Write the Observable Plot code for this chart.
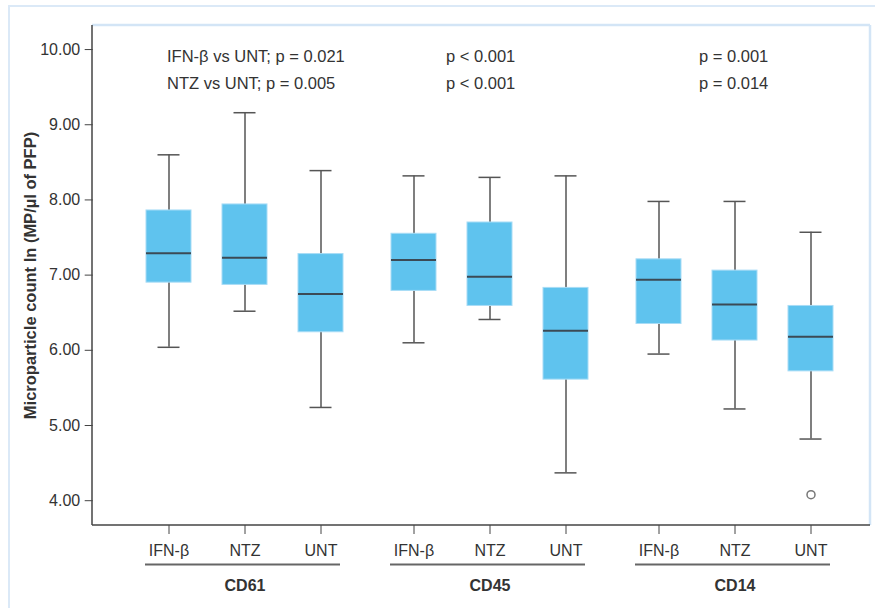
<!DOCTYPE html>
<html>
<head>
<meta charset="utf-8">
<script src="https://cdn.jsdelivr.net/npm/d3@7"></script>
<script src="https://cdn.jsdelivr.net/npm/@observablehq/plot@0.6"></script>
<style>
  html, body { margin: 0; padding: 0; background: #fff; }
  #wrap { position: relative; width: 875px; height: 608px; overflow: hidden; }
  #border { position: absolute; left: 8px; top: 5px; width: 920px; height: 720px; border: 2px solid #dbe9f7; box-sizing: border-box; }
  #chart { position: absolute; left: 0; top: 0; }
</style>
</head>
<body>
<div id="wrap"><div id="border"></div><div id="chart"></div></div>
<script>
// ---- data ----
const markers = ["CD61", "CD45", "CD14"];
const treatments = ["IFN-β", "NTZ", "UNT"];
const boxGroup     = ["CD61", "CD61", "CD61", "CD45", "CD45", "CD45", "CD14", "CD14", "CD14"];
const boxTreatment = ["IFN-β", "NTZ", "UNT", "IFN-β", "NTZ", "UNT", "IFN-β", "NTZ", "UNT"];
const whiskerHigh  = [8.60, 9.16, 8.39, 8.32, 8.30, 8.32, 7.98, 7.98, 7.57];
const quartile3    = [7.86, 7.94, 7.28, 7.55, 7.70, 6.83, 7.21, 7.06, 6.59];
const medians      = [7.29, 7.23, 6.75, 7.20, 6.98, 6.26, 6.94, 6.61, 6.18];
const quartile1    = [6.90, 6.87, 6.24, 6.79, 6.59, 5.61, 6.35, 6.13, 5.72];
const whiskerLow   = [6.04, 6.52, 5.24, 6.10, 6.41, 4.37, 5.95, 5.22, 4.82];
const outlierGroup = ["CD14"];
const outlierTreatment = ["UNT"];
const outlierValue = [4.08];
const yTicks = [4, 5, 6, 7, 8, 9, 10];
const yLabel = "Microparticle count ln (MP/µl of PFP)";
const annotations = [
  ["IFN-β vs UNT; p = 0.021", "NTZ vs UNT; p = 0.005"],
  ["p < 0.001", "p < 0.001"],
  ["p = 0.001", "p = 0.014"]
];

// ---- tables ----
const boxes = boxGroup.map((g, i) => ({
  group: g, treatment: boxTreatment[i],
  high: whiskerHigh[i], q3: quartile3[i], median: medians[i], q1: quartile1[i], low: whiskerLow[i]
}));
const outliers = outlierGroup.map((g, i) => ({group: g, treatment: outlierTreatment[i], value: outlierValue[i]}));
const groupsTable = markers.map(m => ({group: m}));

// ---- layout ----
const W = 875, H = 608, mL = 92, mR = 5, mT = 25, mB = 83;
const fxStart = 133.3, fxEnd = 845.3;
const yMin = 3.67, yMax = 10.32;
const font = "Arial, 'Liberation Sans', Helvetica, sans-serif";
const ink = "#333";
const annDx = [-2, 32, 40];

const annMarks = annotations.map((lines, k) => Plot.text([lines.join("\n")], {
  fx: () => markers[k], x: () => treatments[0], frameAnchor: "top",
  text: d => d, textAnchor: "start", lineAnchor: "top", lineHeight: 1.625,
  dx: annDx[k], dy: 17.5, fontSize: 16.5, fill: ink
}));

const svg = Plot.plot({
  width: W, height: H,
  marginLeft: mL, marginRight: mR, marginTop: mT, marginBottom: mB,
  style: {fontFamily: font, fontSize: "16px", color: ink, background: "transparent", overflow: "visible"},
  fx: {domain: markers, range: [fxStart, fxEnd], paddingInner: 0.1, paddingOuter: 0},
  x: {domain: treatments, paddingInner: 0.403, paddingOuter: 0.137},
  y: {domain: [yMin, yMax]},
  marks: [
    Plot.axisY({ticks: yTicks, tickFormat: d3.format(".2f"), tickSize: 8, tickPadding: 5, dx: mL - fxStart,
      label: null, fontSize: 16, stroke: "#444", fill: ink}),
    Plot.axisX({tickSize: 9, tickPadding: 10, label: null, fontSize: 16, stroke: "#444", fill: ink}),
    Plot.axisFx({anchor: "bottom", tickSize: 0, tickPadding: 54, label: null, fontSize: 16, fontWeight: "bold", fill: ink}),
    Plot.text([{group: markers[0], label: yLabel}], {
      fx: "group", frameAnchor: "left", text: "label", rotate: -90, textAnchor: "middle",
      dx: 30 - fxStart, fontSize: 16.5, fontWeight: "bold", fill: ink
    }),
    Plot.ruleY(groupsTable, {
      fx: "group", y: () => yMin, x1: () => treatments[0], x2: () => treatments[2],
      dy: 39, stroke: "#666", strokeWidth: 2, insetLeft: -1, insetRight: 3
    }),
    Plot.ruleX(boxes, {fx: "group", x: "treatment", y1: "low", y2: "high", stroke: "#555", strokeWidth: 1.5}),
    Plot.tickY(boxes, {fx: "group", x: "treatment", y: "high", stroke: "#555", strokeWidth: 1.5, insetLeft: 11.5, insetRight: 11.5}),
    Plot.tickY(boxes, {fx: "group", x: "treatment", y: "low", stroke: "#555", strokeWidth: 1.5, insetLeft: 11.5, insetRight: 11.5}),
    Plot.barY(boxes, {fx: "group", x: "treatment", y1: "q1", y2: "q3", fill: "#5fc3ee", stroke: "#a8dcf6", strokeWidth: 1}),
    Plot.tickY(boxes, {fx: "group", x: "treatment", y: "median", stroke: "#3b4a55", strokeWidth: 2}),
    Plot.dot(outliers, {fx: "group", x: "treatment", y: "value", r: 4, stroke: "#777", fill: "white", strokeWidth: 1.5}),
    ...annMarks
  ]
});

// plot-area frame: light top/right edges, dark left/bottom axis lines
const s = d3.select(svg);
const fr = s.append("g");
fr.append("line").attr("x1", mL).attr("x2", W - mR).attr("y1", mT).attr("y2", mT)
  .attr("stroke", "#d3e5f6").attr("stroke-width", 2.5);
fr.append("line").attr("x1", W - mR).attr("x2", W - mR).attr("y1", mT).attr("y2", H - mB)
  .attr("stroke", "#d3e5f6").attr("stroke-width", 2.5);
fr.append("line").attr("x1", mL).attr("x2", mL).attr("y1", mT).attr("y2", H - mB)
  .attr("stroke", "#444").attr("stroke-width", 1.5);
fr.append("line").attr("x1", mL).attr("x2", W - mR).attr("y1", H - mB).attr("y2", H - mB)
  .attr("stroke", "#444").attr("stroke-width", 1.5);

document.getElementById("chart").appendChild(svg);
</script>
</body>
</html>
